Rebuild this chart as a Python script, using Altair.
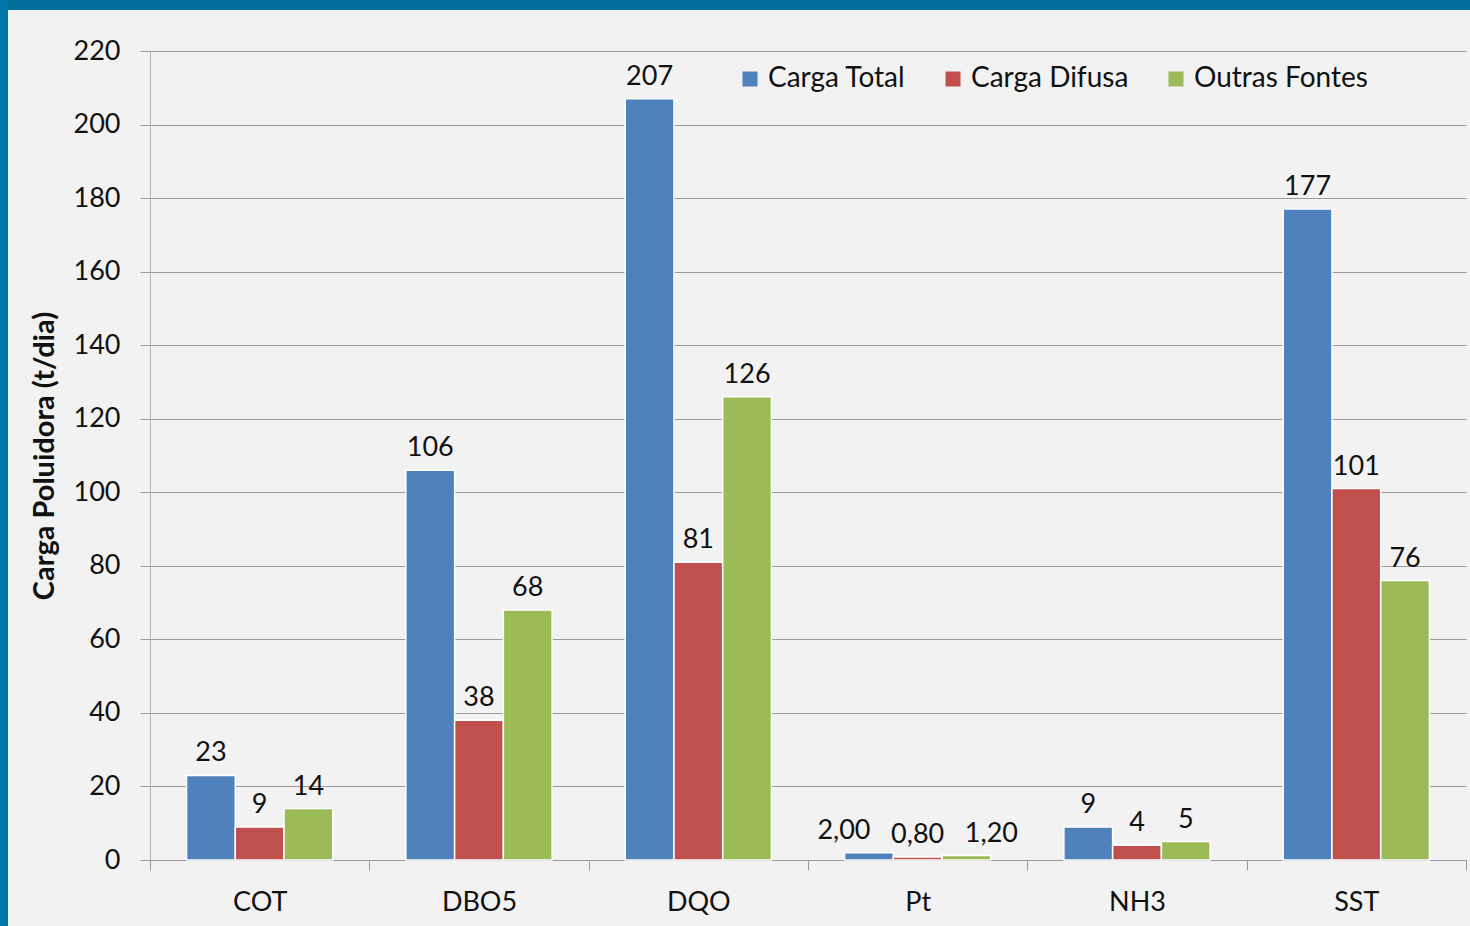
import altair as alt
import pandas as pd

# Pollutant loads (t/dia) per parameter and source
categories = ["COT", "DBO5", "DQO", "Pt", "NH3", "SST"]
series = ["Carga Total", "Carga Difusa", "Outras Fontes"]
carga_total = [23, 106, 207, 2.00, 9, 177]
carga_difusa = [9, 38, 81, 0.80, 4, 101]
outras_fontes = [14, 68, 126, 1.20, 5, 76]
y_ticks = list(range(0, 221, 20))
colors = ["#4f81bd", "#c0504d", "#9bbb59"]

rows = []
for s, vals in zip(series, [carga_total, carga_difusa, outras_fontes]):
    for c, v in zip(categories, vals):
        label = f"{v:.2f}".replace(".", ",") if c == "Pt" else f"{v:.0f}"
        rows.append({"categoria": c, "serie": s, "valor": v, "rotulo": label})
df = pd.DataFrame(rows)

W, H = 1316, 809
FONT = "Lato"
TXT = "#111111"
GRID = "#9a9a9a"

x = alt.X(
    "categoria:N",
    sort=categories,
    scale=alt.Scale(paddingInner=0, paddingOuter=0),
    axis=alt.Axis(
        title=None,
        tickBand="extent",
        labelAngle=0,
        labelFont=FONT,
        labelFontSize=27,
        labelColor=TXT,
        labelPadding=19,
        tickSize=10,
        tickColor=GRID,
        domainColor=GRID,
        grid=False,
    ),
)
xo = alt.XOffset(
    "serie:N", sort=series, scale=alt.Scale(paddingInner=0, paddingOuter=0.75)
)
y = alt.Y(
    "valor:Q",
    scale=alt.Scale(domain=[0, 220], nice=False),
    axis=alt.Axis(
        values=y_ticks,
        title="Carga Poluidora (t/dia)",
        titleFont=FONT,
        titleFontSize=29,
        titleFontWeight="bold",
        titleColor=TXT,
        titleAngle=-90,
        titleX=-106,
        titleY=H / 2,
        titleAlign="center",
        titleBaseline="middle",
        labelFont=FONT,
        labelFontSize=27,
        labelColor=TXT,
        labelPadding=20,
        tickSize=10,
        tickColor=GRID,
        domainColor="#b0b0b0",
        gridColor=GRID,
        gridWidth=1,
    ),
)
color = alt.Color(
    "serie:N",
    sort=series,
    scale=alt.Scale(domain=series, range=colors),
    legend=alt.Legend(
        title=None,
        orient="none",
        legendX=586,
        legendY=14,
        direction="horizontal",
        symbolType="square",
        symbolSize=225,
        symbolStrokeWidth=0,
        labelFont=FONT,
        labelFontSize=28,
        labelColor=TXT,
        labelOffset=4,
        labelLimit=0,
        columnPadding=33,
    ),
)

base = alt.Chart(df)

bars = base.mark_bar(stroke="white", strokeWidth=1.5).encode(
    x=x, xOffset=xo, y=y, color=color
)

text_style = dict(font=FONT, fontSize=27, color=TXT, baseline="alphabetic", dy=-14)
labels = (
    base.transform_filter(alt.datum.categoria != "Pt")
    .mark_text(**text_style)
    .encode(x=x, xOffset=xo, y=y, text="rotulo:N")
)

# small Pt values: spread the labels sideways so they do not collide
pt_layers = []
for s, shift in zip(series, [-25, 0, 25]):
    pt_layers.append(
        base.transform_filter(
            (alt.datum.categoria == "Pt") & (alt.datum.serie == s)
        )
        .mark_text(dx=shift, **text_style)
        .encode(x=x, xOffset=xo, y=y, text="rotulo:N")
    )

frame = pd.DataFrame([{"k": 0}])
top_band = (
    alt.Chart(frame)
    .mark_rect(color="#006d9d")
    .encode(x=alt.value(-150), x2=alt.value(W + 10), y=alt.value(-51), y2=alt.value(-41))
)
left_band = (
    alt.Chart(frame)
    .mark_rect(color="#0075a8")
    .encode(x=alt.value(-150), x2=alt.value(-142), y=alt.value(-51), y2=alt.value(H + 80))
)

chart = (
    alt.layer(bars, labels, *pt_layers, top_band, left_band)
    .properties(
        width=W,
        height=H,
        background="#f2f2f2",
        padding={"left": 150, "top": 51, "right": 4, "bottom": 66},
        autosize=alt.AutoSizeParams(type="none"),
    )
    .configure_view(stroke=None)
)

chart.save("out.html", embed_options={"renderer": "svg", "actions": False})
